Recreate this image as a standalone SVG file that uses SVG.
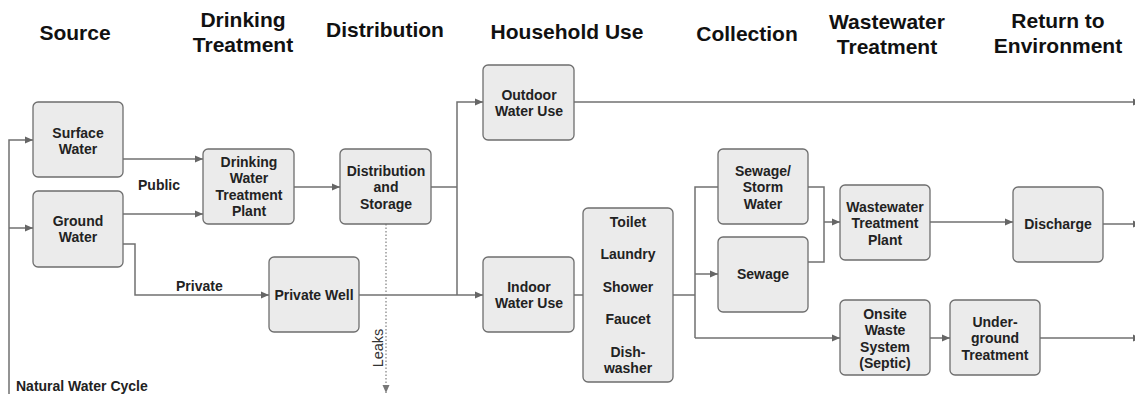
<svg xmlns="http://www.w3.org/2000/svg" width="1135" height="394" viewBox="0 0 1135 394">
<style>
.hdr{font-family:"Liberation Sans",Arial,sans-serif;font-weight:bold;font-size:21px;fill:#111;text-anchor:middle}
.box{fill:#ebebeb;stroke:#6e6e6e;stroke-width:1.3}
.t{font-family:"Liberation Sans",Arial,sans-serif;font-weight:bold;font-size:14px;fill:#222;text-anchor:middle}
.lbl{font-family:"Liberation Sans",Arial,sans-serif;font-weight:bold;font-size:14px;fill:#222}
.lk{font-family:"Liberation Sans",Arial,sans-serif;font-size:14.5px;fill:#333;text-anchor:middle}
.c{fill:none;stroke:#707070;stroke-width:1.5}
.ca{fill:none;stroke:#707070;stroke-width:1.5;marker-end:url(#ah)}
.leak{fill:none;stroke:#888;stroke-width:1.3;stroke-dasharray:1.5 2;marker-end:url(#ahl)}
</style>
<defs>
<marker id="ah" markerUnits="userSpaceOnUse" markerWidth="9" markerHeight="9" refX="8" refY="4" orient="auto"><path d="M0,0.5 L8,4 L0,7.5 z" fill="#666"/></marker>
<marker id="ahl" markerUnits="userSpaceOnUse" markerWidth="9" markerHeight="9" refX="8" refY="4" orient="auto"><path d="M0,0.5 L8,4 L0,7.5 z" fill="#777"/></marker>
</defs>
<rect width="1135" height="394" fill="#fff"/>
<g id="headers">
<text class="hdr" x="75" y="40">Source</text>
<text class="hdr" x="243" y="27">Drinking</text>
<text class="hdr" x="243" y="52">Treatment</text>
<text class="hdr" x="385" y="37">Distribution</text>
<text class="hdr" x="567" y="39">Household Use</text>
<text class="hdr" x="747" y="41">Collection</text>
<text class="hdr" x="887" y="29">Wastewater</text>
<text class="hdr" x="887" y="54">Treatment</text>
<text class="hdr" x="1058" y="28">Return to</text>
<text class="hdr" x="1058" y="53">Environment</text>
</g>
<g id="connectors">
<path class="ca" d="M9,394 L9,140 L33,140"/>
<path class="ca" d="M9,228 L33,228"/>
<path class="ca" d="M123,159 L203,159"/>
<path class="ca" d="M123,214 L203,214"/>
<path class="ca" d="M123,244 L135,244 L135,295 L269,295"/>
<path class="ca" d="M294,187 L340,187"/>
<path class="c" d="M431,187 L457,187"/>
<path class="ca" d="M457,295 L457,102 L483,102"/>
<path class="ca" d="M359,295 L483,295"/>
<path class="leak" d="M386,224 L386,393"/>
<path class="ca" d="M574,102 L1141,102"/>
<path class="c" d="M574,295 L583,295"/>
<path class="c" d="M673,295 L695,295"/>
<path class="c" d="M718,187 L695,187 L695,338"/>
<path class="ca" d="M695,274 L718,274"/>
<path class="ca" d="M695,338 L840,338"/>
<path class="c" d="M808,187 L824,187 L824,262 L808,262"/>
<path class="ca" d="M824,222 L840,222"/>
<path class="ca" d="M930,222 L1013,222"/>
<path class="ca" d="M1103,224 L1141,224"/>
<path class="ca" d="M930,338 L950,338"/>
<path class="ca" d="M1040,338 L1141,338"/>
</g>
<g id="labels">
<text class="lbl" x="138" y="190">Public</text>
<text class="lbl" x="176" y="291">Private</text>
<text class="lbl" x="16" y="391">Natural Water Cycle</text>
<text class="lk" transform="translate(383,348) rotate(-90)">Leaks</text>
</g>
<g id="surface-water"><rect class="box" x="33" y="102" width="90" height="75" rx="5"/><text class="t" x="78" y="138">Surface</text><text class="t" x="78" y="154">Water</text></g>
<g id="ground-water"><rect class="box" x="33" y="191" width="90" height="76" rx="5"/><text class="t" x="78" y="226">Ground</text><text class="t" x="78" y="242">Water</text></g>
<g id="drinking-plant"><rect class="box" x="203" y="149" width="91" height="75" rx="5"/><text class="t" x="249" y="167">Drinking</text><text class="t" x="249" y="183">Water</text><text class="t" x="249" y="200">Treatment</text><text class="t" x="249" y="216">Plant</text></g>
<g id="distribution"><rect class="box" x="340" y="149" width="91" height="75" rx="5"/><text class="t" x="386" y="176">Distribution</text><text class="t" x="386" y="192">and</text><text class="t" x="386" y="209">Storage</text></g>
<g id="private-well"><rect class="box" x="269" y="257" width="90" height="75" rx="5"/><text class="t" x="314" y="300">Private Well</text></g>
<g id="outdoor"><rect class="box" x="483" y="65" width="91" height="75" rx="5"/><text class="t" x="529" y="100">Outdoor</text><text class="t" x="529" y="116">Water Use</text></g>
<g id="indoor"><rect class="box" x="483" y="257" width="91" height="75" rx="5"/><text class="t" x="529" y="292">Indoor</text><text class="t" x="529" y="308">Water Use</text></g>
<g id="fixtures"><rect class="box" x="583" y="208" width="90" height="174" rx="5"/><text class="t" x="628" y="227">Toilet</text><text class="t" x="628" y="259">Laundry</text><text class="t" x="628" y="292">Shower</text><text class="t" x="628" y="324">Faucet</text><text class="t" x="628" y="357">Dish-</text><text class="t" x="628" y="373">washer</text></g>
<g id="sewage-storm"><rect class="box" x="718" y="149" width="90" height="75" rx="5"/><text class="t" x="763" y="176">Sewage/</text><text class="t" x="763" y="192">Storm</text><text class="t" x="763" y="209">Water</text></g>
<g id="sewage"><rect class="box" x="718" y="237" width="90" height="75" rx="5"/><text class="t" x="763" y="279">Sewage</text></g>
<g id="wwtp"><rect class="box" x="840" y="185" width="90" height="75" rx="5"/><text class="t" x="885" y="212">Wastewater</text><text class="t" x="885" y="228">Treatment</text><text class="t" x="885" y="245">Plant</text></g>
<g id="discharge"><rect class="box" x="1013" y="187" width="90" height="75" rx="5"/><text class="t" x="1058" y="229">Discharge</text></g>
<g id="onsite"><rect class="box" x="840" y="300" width="90" height="75" rx="5"/><text class="t" x="885" y="319">Onsite</text><text class="t" x="885" y="335">Waste</text><text class="t" x="885" y="352">System</text><text class="t" x="885" y="368">(Septic)</text></g>
<g id="underground"><rect class="box" x="950" y="300" width="90" height="75" rx="5"/><text class="t" x="995" y="327">Under-</text><text class="t" x="995" y="343">ground</text><text class="t" x="995" y="360">Treatment</text></g>
</svg>
